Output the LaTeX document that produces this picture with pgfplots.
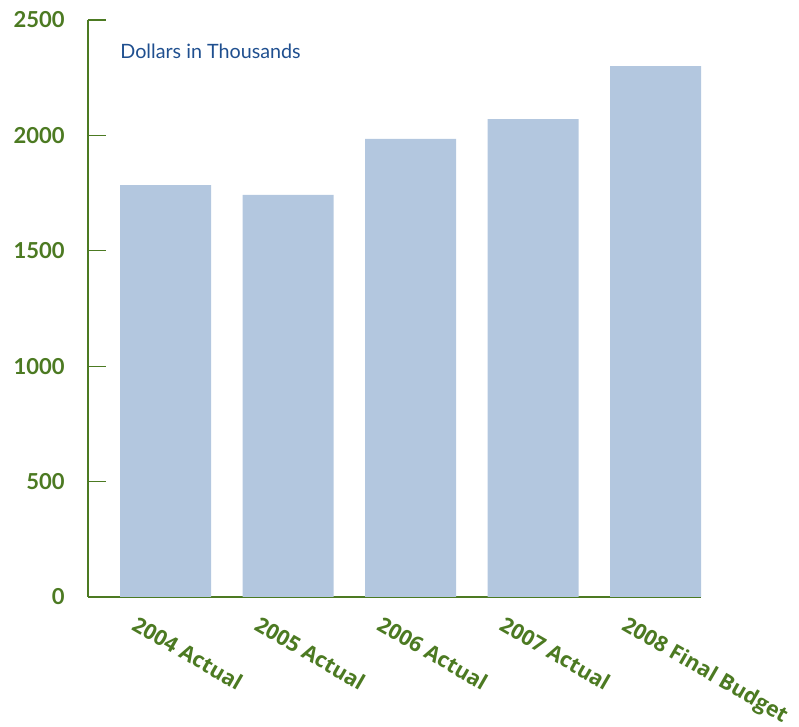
\documentclass[border=0pt]{standalone}
\usepackage{pgfplots}
\pgfplotsset{compat=1.18}
\usepackage{fontspec}
\setmainfont{Lato}
\newfontfamily\labelfont{Open Sans}[UprightFont={* Bold}]
\definecolor{budgetgreen}{HTML}{4C7A22}
\definecolor{barblue}{HTML}{B3C7DF}
\definecolor{noteblue}{HTML}{1F4F8F}

\pgfplotstableread{
x value
0 1785
1 1742
2 1985
3 2070
4 2300
}\spending

\begin{document}
\begin{tikzpicture}[x=1pt,y=1pt]
% page frame: 1px = 0.75pt
\useasboundingbox (-66pt,-97.5pt) rectangle (533.25pt,447.75pt);
\begin{axis}[
  at={(0,0)}, anchor=south west,
  scale only axis,
  width=459.75pt, height=432.75pt,
  xmin=-0.633, xmax=4.371,
  ymin=0, ymax=2500,
  axis x line*=bottom, axis y line*=left,
  axis line style={draw=budgetgreen, line width=0.9pt, -},
  ytick={0,500,1000,1500,2000,2500},
  tick align=inside,
  major tick length=13.5pt,
  y tick style={draw=budgetgreen, line width=0.9pt},
  yticklabel style={font=\fontsize{16.5}{18}\selectfont\bfseries, text=budgetgreen,
    /pgf/number format/assume math mode=true, xshift=-14pt},
  /pgf/number format/1000 sep={},
  xtick={-0.22,0.78,1.78,2.78,3.78},
  xticklabels={2004 Actual,2005 Actual,2006 Actual,2007 Actual,2008 Final Budget},
  x tick style={draw=none},
  xticklabel style={font=\labelfont\fontsize{16}{18}\selectfont, text=budgetgreen,
    rotate=-30, anchor=north west, inner sep=0pt},
  ybar, bar width=0.743,
  clip=false,
]
\addplot[fill=barblue, draw=none] table[x=x, y=value] {\spending};
\node[anchor=base west, text=noteblue, font=\fontsize{14.8}{16}\selectfont, inner sep=0pt]
  at (axis cs:-0.371,2332) {Dollars in Thousands};
\end{axis}
\end{tikzpicture}
\end{document}
